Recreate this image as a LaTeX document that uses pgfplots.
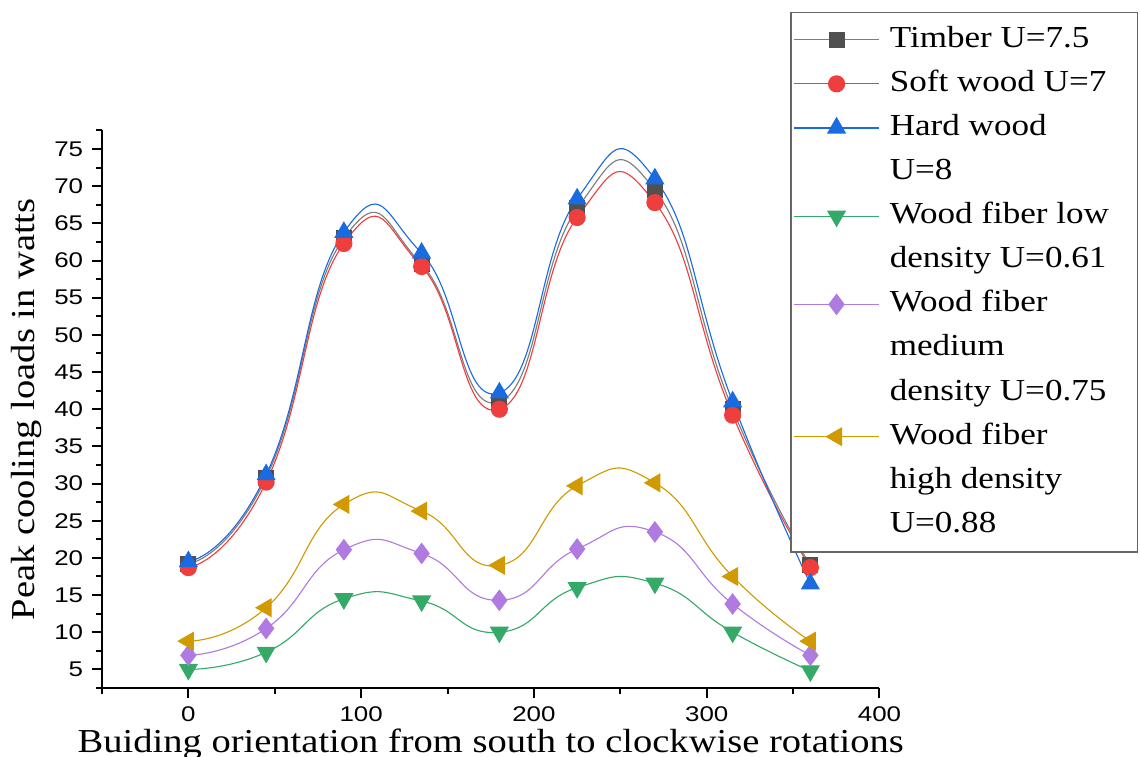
\documentclass[border=0pt]{standalone}
\usepackage{fontspec}
\setmainfont{Liberation Serif}[FakeStretch=1.15]
\setsansfont{Liberation Sans}[FakeStretch=1.22]
\newfontfamily\legfont{Liberation Serif}[FakeStretch=1.15]
\usepackage{pgfplots}
\pgfplotsset{compat=1.18}

\definecolor{ctimber}{HTML}{505050}
\definecolor{csoft}{HTML}{EE3E3E}
\definecolor{chard}{HTML}{1A6BE0}
\definecolor{clow}{HTML}{35AA68}
\definecolor{cmed}{HTML}{B07BE0}
\definecolor{chigh}{HTML}{D09A00}

% legend text column has a fixed width
\newcommand\lent[1]{\makebox[96pt][l]{\legfont #1}}

\pgfplotstableread{
x    timber soft hard low  med  high
0    19.2  18.7 19.5  5.0  6.9  8.8
45   30.8  30.2 31.2  7.3 10.5 13.3
90   63.0  62.3 63.8 14.5 21.1 27.2
135  59.5  59.2 61.0 14.2 20.6 26.3
180  41.0  40.0 42.2 10.0 14.3 19.0
225  67.0  65.8 68.3 16.0 21.2 29.7
270  69.5  67.8 71.0 16.6 23.5 30.1
315  40.0  39.2 41.0 10.0 13.8 17.5
360  19.0  18.7 16.5  4.8  6.9  8.8
}\data

\begin{document}
\begin{tikzpicture}
\begin{axis}[
  name=ax, at={(0,0)}, anchor=south west,
  scale only axis, width=311pt, height=223pt,
  axis lines=left, axis line style={-, line width=0.8pt},
  xmin=-50, xmax=400, ymin=2.5, ymax=77.5,
  xtick={0,100,200,300,400}, minor xtick={-50,50,150,250,350},
  ytick={5,10,...,75}, minor ytick={2.5,7.5,...,77.5},
  tick align=outside, major tick length=4pt, minor tick length=2.5pt,
  tick style={line width=0.8pt, black},
  tick label style={font=\sffamily\fontsize{8.5}{9}\selectfont},
  /pgf/number format/assume math mode=true,
  xlabel={Buiding orientation from south to clockwise rotations},
  ylabel={Peak cooling loads in watts},
  label style={font=\rmfamily\fontsize{13.4}{15}\selectfont},
  xlabel style={yshift=4pt},
  ylabel style={yshift=-2pt},
  every axis plot/.append style={line width=0.45pt, smooth, tension=0.9},
  legend cell align=left,
  legend style={at={(axis description cs:0.885,1.2126)}, anchor=north west,
    draw=gray!80!black, line width=0.6pt, fill=white,
    font=\legfont\fontsize{12.2}{14}\selectfont, row sep=0pt,
    inner xsep=1pt, inner ysep=2pt,
    nodes={inner ysep=2.82pt, text height=9pt, text depth=3pt},
    /tikz/every odd column/.append style={column sep=2pt}},
  legend image code/.code={
    \draw[mark repeat=2, mark phase=2, smooth=false]
      plot coordinates {(0cm,0cm) (0.6cm,0cm) (1.2cm,0cm)};},
]
\addplot[color=ctimber!75, mark=square*, mark size=3pt,
  mark options={fill=ctimber, draw=ctimber}] table[x=x, y=timber] {\data};
\addlegendentry{\lent{Timber U=7.5}}
\addplot[color=csoft, mark=*, mark size=3.2pt,
  mark options={fill=csoft, draw=csoft}] table[x=x, y=soft] {\data};
\addlegendentry{\lent{Soft wood U=7}}
\addplot[color=chard, mark=triangle*, mark size=4pt,
  mark options={fill=chard, draw=chard}] table[x=x, y=hard] {\data};
\addlegendentry{\lent{Hard wood}}
\addlegendimage{empty legend}
\addlegendentry{\lent{U=8}}
\addplot[color=clow, mark=triangle*, mark size=4pt,
  mark options={fill=clow, draw=clow, rotate=180}] table[x=x, y=low] {\data};
\addlegendentry{\lent{Wood fiber low}}
\addlegendimage{empty legend}
\addlegendentry{\lent{density U=0.61}}
\addplot[color=cmed, mark=diamond*, mark size=4pt,
  mark options={fill=cmed, draw=cmed}] table[x=x, y=med] {\data};
\addlegendentry{\lent{Wood fiber}}
\addlegendimage{empty legend}
\addlegendentry{\lent{medium}}
\addlegendimage{empty legend}
\addlegendentry{\lent{density U=0.75}}
\addplot[color=chigh, mark=triangle*, mark size=4pt,
  mark options={fill=chigh, draw=chigh, rotate=90}] table[x=x, y=high] {\data};
\addlegendentry{\lent{Wood fiber}}
\addlegendimage{empty legend}
\addlegendentry{\lent{high density}}
\addlegendimage{empty legend}
\addlegendentry{\lent{U=0.88}}
\end{axis}
\pgfresetboundingbox
\useasboundingbox (-40.8pt,-27.6pt) rectangle (415.2pt,275.2pt);
\end{tikzpicture}
\end{document}
